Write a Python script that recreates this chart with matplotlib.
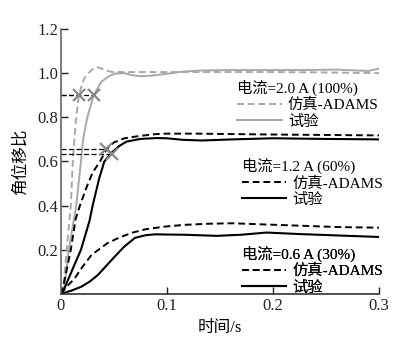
import numpy as np
import matplotlib
matplotlib.use("Agg")
import matplotlib.pyplot as plt
from matplotlib.lines import Line2D

plt.rcParams['font.family'] = ['Liberation Serif', 'Noto Sans CJK SC']
plt.rcParams['font.size'] = 12

# 2.0 A (100%)
t_sim_20 = [0, 0.002, 0.0055, 0.0094, 0.0113, 0.014, 0.017, 0.020, 0.022, 0.025, 0.028, 0.031,
            0.034, 0.038, 0.042, 0.049, 0.06, 0.08, 0.1, 0.15, 0.2, 0.25, 0.3]
v_sim_20 = [0, 0.01, 0.2, 0.4, 0.6, 0.78, 0.9, 0.95, 0.975, 0.995, 1.01, 1.022,
            1.027, 1.022, 1.012, 1.005, 1.005, 1.005, 1.005, 1.005, 1.005, 1.003, 1.0]
t_exp_20 = [0, 0.003, 0.0075, 0.0145, 0.019, 0.021, 0.025, 0.031, 0.038, 0.045, 0.051, 0.06,
            0.068, 0.077, 0.088, 0.1, 0.115, 0.133, 0.16, 0.2, 0.23, 0.26, 0.28, 0.29, 0.3]
v_exp_20 = [0, 0.02, 0.2, 0.4, 0.6, 0.7, 0.8, 0.9, 0.96, 0.985, 0.998, 1.0,
            0.99, 0.986, 0.99, 0.997, 1.007, 1.012, 1.014, 1.014, 1.014, 1.016, 1.012, 1.01, 1.02]

# 1.2 A (60%)
t_sim_12 = [0, 0.003, 0.0094, 0.014, 0.018, 0.024, 0.03, 0.037, 0.043, 0.05, 0.06, 0.075,
            0.09, 0.1, 0.13, 0.162, 0.2, 0.25, 0.3]
v_sim_12 = [0, 0.05, 0.2, 0.34, 0.4, 0.48, 0.55, 0.6, 0.655, 0.686, 0.705, 0.716,
            0.724, 0.726, 0.726, 0.724, 0.722, 0.72, 0.718]
t_exp_12 = [0, 0.003, 0.01, 0.019, 0.027, 0.03, 0.036, 0.041, 0.048, 0.055, 0.062, 0.075,
            0.09, 0.1, 0.115, 0.133, 0.162, 0.2, 0.25, 0.3]
v_exp_12 = [0, 0.02, 0.1, 0.2, 0.33, 0.4, 0.52, 0.6, 0.64, 0.67, 0.69, 0.702,
            0.706, 0.705, 0.698, 0.695, 0.70, 0.705, 0.702, 0.70]

# 0.6 A (30%)
t_sim_06 = [0, 0.005, 0.013, 0.02, 0.029, 0.044, 0.055, 0.067, 0.08, 0.098, 0.117, 0.14,
            0.162, 0.19, 0.22, 0.26, 0.3]
v_sim_06 = [0, 0.03, 0.07, 0.12, 0.177, 0.23, 0.255, 0.277, 0.293, 0.305, 0.313, 0.318,
            0.32, 0.315, 0.31, 0.303, 0.30]
t_exp_06 = [0, 0.01, 0.0195, 0.027, 0.035, 0.043, 0.051, 0.06, 0.07, 0.08, 0.089, 0.1,
            0.117, 0.147, 0.17, 0.194, 0.226, 0.26, 0.3]
v_exp_06 = [0, 0.015, 0.033, 0.055, 0.086, 0.128, 0.17, 0.215, 0.254, 0.266, 0.27, 0.269,
            0.268, 0.263, 0.268, 0.278, 0.271, 0.265, 0.258]

# marked points (90% / response points)
mark_t = [0.017, 0.031, 0.043, 0.048]
mark_v = [0.9, 0.9, 0.655, 0.635]

titles = ['电流=2.0 A (100%)', '电流=1.2 A (60%)', '电流=0.6 A (30%)']
labels = ['仿真-ADAMS', '试验']

gray = '#a8a8a8'
dash = (0, (3.5, 2))

fig = plt.figure(figsize=(4.11, 3.58), dpi=100)
ax = fig.add_axes([0.148, 0.179, 0.774, 0.74])

ax.plot(t_sim_20, v_sim_20, color=gray, lw=1.4, linestyle=dash)
ax.plot(t_exp_20, v_exp_20, color=gray, lw=1.4)
ax.plot(t_sim_12, v_sim_12, color='black', lw=1.4, linestyle=dash)
ax.plot(t_exp_12, v_exp_12, color='black', lw=1.5)
ax.plot(t_sim_06, v_sim_06, color='black', lw=1.4, linestyle=dash)
ax.plot(t_exp_06, v_exp_06, color='black', lw=1.5)

ax.hlines(mark_v, 0, mark_t, colors='black', lw=0.9, linestyles=(0, (4, 2)))
ax.plot(mark_t, mark_v, 'x', color='#888888', ms=8, mew=1.6)

ax.set_xlim(0, 0.3)
ax.set_ylim(0, 1.2)
ax.set_xticks([0, 0.1, 0.2, 0.3])
ax.set_xticklabels(['0', '0.1', '0.2', '0.3'])
ax.set_yticks([0.2, 0.4, 0.6, 0.8, 1.0, 1.2])
ax.set_yticklabels(['0.2', '0.4', '0.6', '0.8', '1.0', '1.2'])
ax.tick_params(direction='in', length=5, width=1, pad=3, labelsize=12, colors='#222222')
ax.tick_params(axis='y', pad=2)
for s in ['top', 'right']:
    ax.spines[s].set_visible(False)
ax.spines['left'].set_color('#666666')
ax.spines['bottom'].set_color('#333333')
ax.spines['left'].set_linewidth(1.2)
ax.spines['bottom'].set_linewidth(1.2)

ax.set_xlabel('时间/s', fontsize=12, labelpad=4)
ax.set_ylabel('角位移比', fontsize=12, labelpad=6)

colors = [gray, 'black', 'black']
anchors = [(0.555, 0.81), (0.57, 0.515), (0.57, 0.183)]
for title, c, anc in zip(titles, colors, anchors):
    h = [Line2D([], [], color=c, lw=1.4, linestyle=dash),
         Line2D([], [], color=c, lw=1.5)]
    leg = ax.legend(h, labels, title=title, loc='upper left', bbox_to_anchor=anc,
                    frameon=False, fontsize=11, title_fontsize=11, handlelength=2.9,
                    handletextpad=0.4, labelspacing=0.15, borderpad=0, borderaxespad=0,
                    alignment='left')
    ax.add_artist(leg)

fig.savefig('out.png', dpi=100)
